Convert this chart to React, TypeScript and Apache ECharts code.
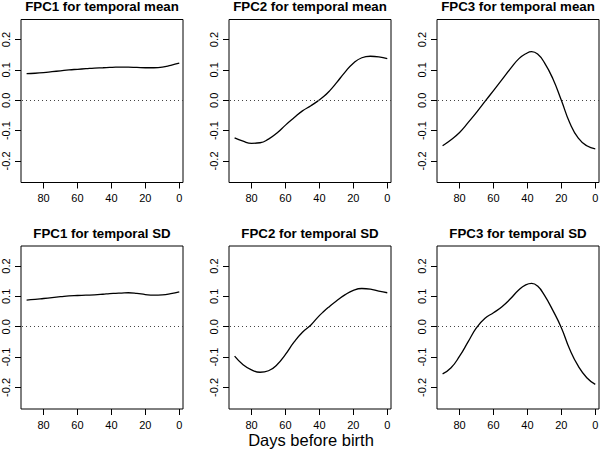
import React, { useEffect, useRef } from "react";
import * as echarts from "echarts";

const days = [90, 85, 80, 75, 70, 65, 60, 55, 50, 45, 41, 37.5, 34, 30, 25, 20, 15, 10, 5, 0];

const fpc1Mean = [0.088, 0.089, 0.091, 0.094, 0.097, 0.1, 0.102, 0.104, 0.106, 0.107, 0.108, 0.109, 0.109, 0.109, 0.108, 0.107, 0.107, 0.109, 0.115, 0.122];
const fpc2Mean = [-0.124, -0.135, -0.142, -0.14, -0.128, -0.108, -0.082, -0.058, -0.035, -0.018, -0.003, 0.012, 0.031, 0.057, 0.092, 0.122, 0.14, 0.145, 0.143, 0.137];
const fpc3Mean = [-0.15, -0.13, -0.106, -0.074, -0.04, -0.004, 0.032, 0.068, 0.104, 0.137, 0.153, 0.16, 0.152, 0.124, 0.071, 0.0, -0.075, -0.125, -0.15, -0.16];
const fpc1SD = [0.088, 0.09, 0.093, 0.096, 0.099, 0.102, 0.103, 0.104, 0.105, 0.107, 0.109, 0.11, 0.111, 0.112, 0.11, 0.106, 0.104, 0.105, 0.109, 0.115];
const fpc2SD = [-0.097, -0.125, -0.142, -0.15, -0.145, -0.125, -0.091, -0.051, -0.018, 0.006, 0.031, 0.05, 0.067, 0.085, 0.105, 0.12, 0.126, 0.124, 0.117, 0.112];
const fpc3SD = [-0.155, -0.135, -0.097, -0.05, -0.003, 0.028, 0.046, 0.066, 0.092, 0.122, 0.138, 0.143, 0.134, 0.104, 0.054, -0.003, -0.075, -0.13, -0.168, -0.19];

const titles = [
  "FPC1 for temporal mean",
  "FPC2 for temporal mean",
  "FPC3 for temporal mean",
  "FPC1 for temporal SD",
  "FPC2 for temporal SD",
  "FPC3 for temporal SD",
];
const seriesValues = [fpc1Mean, fpc2Mean, fpc3Mean, fpc1SD, fpc2SD, fpc3SD];
const xTicks = [0, 20, 40, 60, 80];
const yTicks = [-0.2, -0.1, 0, 0.1, 0.2];
const xLabel = "Days before birth";

const FONT = "'Liberation Sans', Arial, Helvetica, sans-serif";

export default function App() {
  const ref = useRef<HTMLDivElement>(null);
  useEffect(() => {
    if (!ref.current) return;
    const chart = echarts.init(ref.current, undefined, { renderer: "svg" });
    const colLeft = [21, 229, 437];
    const rowTop = [19.5, 246];
    const W = 162;
    const H = 163;
    const grids: any[] = [];
    const xAxes: any[] = [];
    const yAxes: any[] = [];
    const series: any[] = [];
    const titleArr: any[] = [];
    for (let i = 0; i < 6; i++) {
      const r = Math.floor(i / 3);
      const c = i % 3;
      grids.push({
        left: colLeft[c],
        top: rowTop[r],
        width: W,
        height: H,
        show: true,
        borderColor: "#000",
        borderWidth: 1,
        backgroundColor: "transparent",
        containLabel: false,
        outerBoundsMode: "none",
      });
      xAxes.push({
        type: "value",
        gridIndex: i,
        inverse: true,
        min: -2.2,
        max: 93.3,
        axisLine: { show: false, onZero: false },
        splitLine: { show: false },
        axisTick: {
          show: true,
          length: 6,
          customValues: xTicks,
          lineStyle: { color: "#000", width: 1 },
        },
        axisLabel: {
          customValues: xTicks,
          margin: 10,
          fontSize: 11,
          color: "#000",
          fontFamily: FONT,
          hideOverlap: false,
          formatter: (v: number) => String(v),
        },
      });
      yAxes.push({
        type: "value",
        gridIndex: i,
        min: -0.271,
        max: 0.266,
        axisLine: { show: false, onZero: false },
        splitLine: { show: false },
        axisTick: {
          show: true,
          length: 6,
          customValues: yTicks,
          lineStyle: { color: "#000", width: 1 },
        },
        axisLabel: {
          customValues: yTicks,
          rotate: 90,
          margin: 10,
          fontSize: 11,
          color: "#000",
          fontFamily: FONT,
          formatter: (v: number) => (Math.abs(v) < 1e-9 ? "0.0" : v.toFixed(1)),
        },
      });
      const vals = seriesValues[i];
      series.push({
        type: "line",
        xAxisIndex: i,
        yAxisIndex: i,
        data: days.map((d, k) => [d, vals[k]]),
        showSymbol: false,
        smooth: 0.5,
        lineStyle: { color: "#000", width: 1.3 },
        markLine: {
          silent: true,
          symbol: "none",
          label: { show: false },
          lineStyle: { color: "#444", width: 1, type: [1, 3] },
          data: [{ yAxis: 0 }],
        },
      });
      titleArr.push({
        text: titles[i],
        left: colLeft[c] + W / 2,
        top: r === 0 ? 0 : 227,
        textAlign: "center",
        padding: 0,
        textStyle: {
          fontSize: 13.3,
          fontWeight: "bold",
          color: "#000",
          fontFamily: FONT,
        },
      });
    }
    titleArr.push({
      text: xLabel,
      left: 311,
      top: 431,
      textAlign: "center",
      padding: 0,
      textStyle: {
        fontSize: 16.5,
        fontWeight: "normal",
        color: "#000",
        fontFamily: FONT,
      },
    });
    chart.setOption({
      animation: false,
      backgroundColor: "#fff",
      title: titleArr,
      grid: grids,
      xAxis: xAxes,
      yAxis: yAxes,
      series,
    });
    return () => chart.dispose();
  }, []);
  return (
    <div
      ref={ref}
      style={{ position: "absolute", left: 0, top: 0, width: 600, height: 454 }}
    />
  );
}
